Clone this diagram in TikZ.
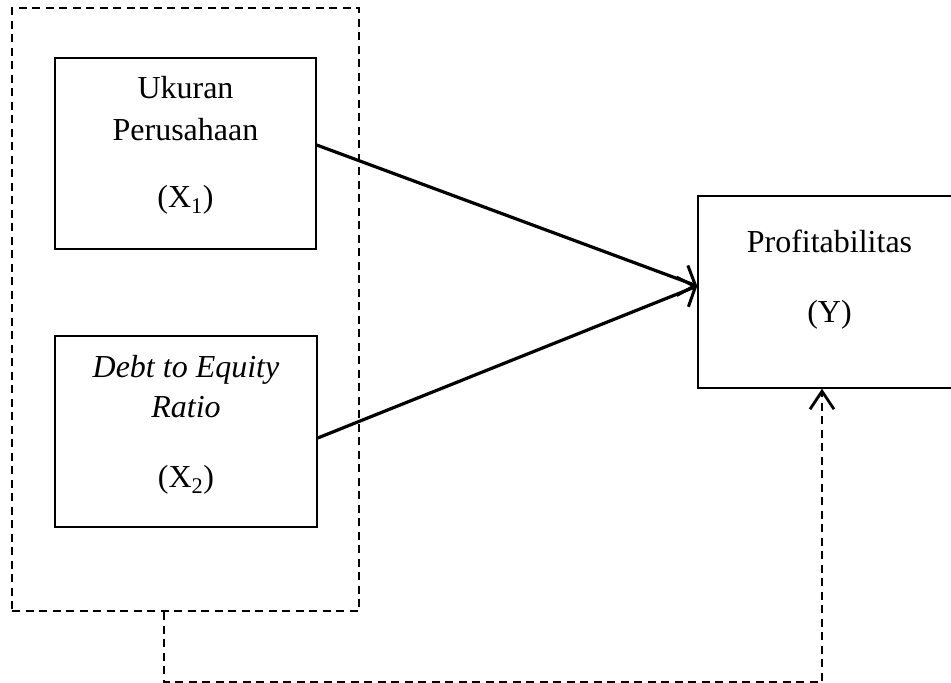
\documentclass[tikz,border=0pt]{standalone}
\usepackage{fontspec}
\setmainfont{Liberation Serif}
\usetikzlibrary{arrows.meta}
\begin{document}
\begin{tikzpicture}[x=1pt,y=-1pt,
  varbox/.style={draw=black, line width=1.4pt, minimum width=#1, inner sep=0pt},
  grpbox/.style={draw=black, line width=2.8pt, dash pattern=on 8pt off 5.5pt, inner sep=0pt},
  lbl/.style={anchor=base, inner sep=0pt, font=\fontsize{32}{38}\selectfont},
  solidarrow/.style={line width=3.2pt, -{Straight Barb[length=14pt,width=32pt,line width=3pt]}},
  dasharrow/.style={line width=2.8pt, dash pattern=on 8pt off 5.5pt, -{Straight Barb[length=18pt,width=24pt,line width=2.8pt]}}
]
\useasboundingbox (0,0) rectangle (951,683);
% group box
\node[grpbox, minimum width=347pt, minimum height=603pt] (grp) at (185.5,309.5) {};
% X1
\node[varbox=261pt, minimum height=191pt] (x1) at (185.5,153.5) {};
\node[lbl] (x1a) at (185.5,98) {Ukuran};
\node[lbl] (x1b) at (185.5,140) {Perusahaan};
\node[lbl] (x1c) at (185.5,207) {(X\textsubscript{1})};
% X2
\node[varbox=262pt, minimum height=191pt] (x2) at (186,431.5) {};
\node[lbl] (x2a) at (186,377) {\itshape Debt to Equity};
\node[lbl] (x2b) at (186,417) {\itshape Ratio};
\node[lbl] (x2c) at (186,487) {(X\textsubscript{2})};
% Y
\node[varbox=263pt, minimum height=192pt] (y) at (829.5,292) {};
\node[lbl] (ya) at (829.5,252) {Profitabilitas};
\node[lbl] (yb) at (829.5,322) {(Y)};
% arrows
\draw[solidarrow] ([yshift=8.5pt]x1.east) -- ([yshift=6pt]y.west);
\draw[solidarrow] ([yshift=-6.5pt]x2.east) -- ([yshift=6pt]y.west);
% dashed connector
\coordinate (c1) at (164,682);
\coordinate (c2) at (822,682);
\draw[dasharrow] (c1 |- grp.south) -- (c1) -- (c2) -- (c2 |- y.south);
\end{tikzpicture}
\end{document}
